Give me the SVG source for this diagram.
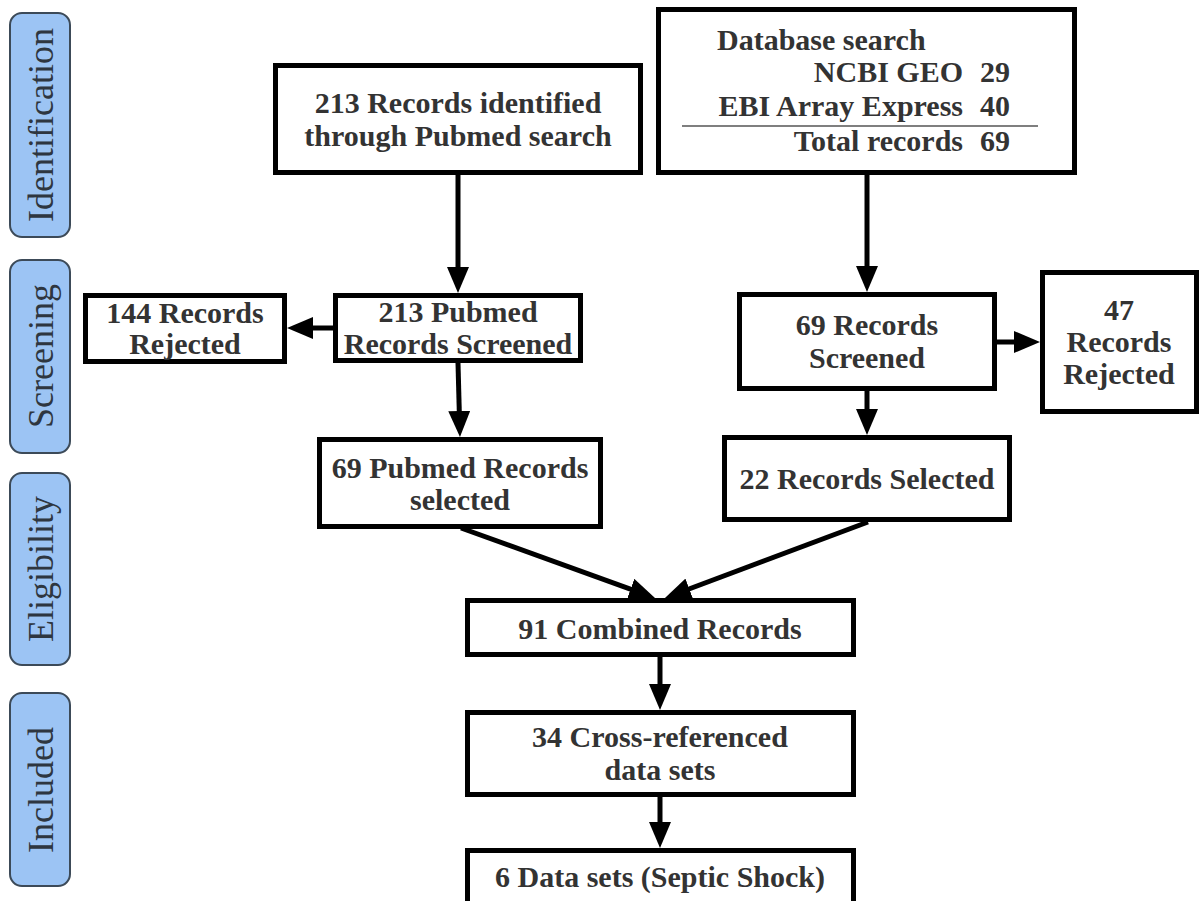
<svg xmlns="http://www.w3.org/2000/svg" width="1199" height="901" viewBox="0 0 1199 901">
<style>
.stage rect{fill:#9cc4f4;stroke:#3c4a58;stroke-width:2}
.stage text{font-family:"Liberation Serif",serif;font-size:36px;fill:#2e3640;text-anchor:middle}
.box{fill:#fff;stroke:#000;stroke-width:5}
.t{font-family:"Liberation Serif",serif;font-weight:bold;font-size:30px;fill:#333;text-anchor:middle}
.tl{text-anchor:start}
.tr{text-anchor:end}
.conn line{stroke:#000;stroke-width:5;marker-end:url(#ah)}
</style>
<defs>
<marker id="ah" markerUnits="userSpaceOnUse" viewBox="0 0 26 22" markerWidth="26" markerHeight="22" refX="16" refY="11" orient="auto">
<polygon points="0,0 26,11 0,22" fill="#000"/>
</marker>
</defs>
<rect width="1199" height="901" fill="#fff"/>

<g id="stage-identification" class="stage"><rect x="10" y="13" width="60" height="224" rx="12"/><text transform="translate(53,125) rotate(-90)">Identification</text></g>
<g id="stage-screening" class="stage"><rect x="10" y="260" width="60" height="193" rx="12"/><text transform="translate(53,356) rotate(-90)">Screening</text></g>
<g id="stage-eligibility" class="stage"><rect x="10" y="473" width="60" height="192" rx="12"/><text transform="translate(53,569) rotate(-90)">Eligibility</text></g>
<g id="stage-included" class="stage"><rect x="10" y="693" width="60" height="193" rx="12"/><text transform="translate(53,790) rotate(-90)">Included</text></g>

<g id="conn" class="conn">
<line x1="458" y1="175" x2="458" y2="283"/>
<line x1="333" y1="328" x2="297" y2="328"/>
<line x1="458" y1="363" x2="459.7" y2="427"/>
<line x1="867" y1="175" x2="867" y2="282"/>
<line x1="997" y1="342" x2="1030" y2="342"/>
<line x1="867" y1="391" x2="867" y2="425"/>
<line x1="461" y1="528" x2="645.6" y2="594.6"/>
<line x1="868" y1="522" x2="674.3" y2="594.5"/>
<line x1="660" y1="657" x2="660" y2="700"/>
<line x1="660" y1="797" x2="660" y2="838"/>
</g>

<g id="n-pubmed">
<rect class="box" x="275.5" y="65.5" width="365" height="107"/>
<text class="t" x="458" y="113">213 Records identified</text>
<text class="t" x="458" y="146">through Pubmed search</text>
</g>

<g id="n-database">
<rect class="box" x="658.5" y="9.5" width="416" height="163"/>
<text class="t tl" x="717" y="50">Database search</text>
<text class="t tr" x="963" y="82">NCBI GEO</text>
<text class="t tl" x="980" y="82">29</text>
<text class="t tr" x="963" y="116">EBI Array Express</text>
<text class="t tl" x="980" y="116">40</text>
<line x1="682" y1="126" x2="1038" y2="126" stroke="#555" stroke-width="1.5"/>
<text class="t tr" x="963" y="151">Total records</text>
<text class="t tl" x="980" y="151">69</text>
</g>

<g id="n-rejected144">
<rect class="box" x="85.5" y="295.5" width="199" height="66"/>
<text class="t" x="185" y="323">144 Records</text>
<text class="t" x="185" y="354">Rejected</text>
</g>

<g id="n-screened213">
<rect class="box" x="335.5" y="295.5" width="245" height="65"/>
<text class="t" x="458" y="322">213 Pubmed</text>
<text class="t" x="458" y="354">Records Screened</text>
</g>

<g id="n-screened69">
<rect class="box" x="739.5" y="294.5" width="255" height="94"/>
<text class="t" x="867" y="335">69 Records</text>
<text class="t" x="867" y="368">Screened</text>
</g>

<g id="n-rejected47">
<rect class="box" x="1042.5" y="272.5" width="154" height="139"/>
<text class="t" x="1119" y="320">47</text>
<text class="t" x="1119" y="352">Records</text>
<text class="t" x="1119" y="384">Rejected</text>
</g>

<g id="n-selected69">
<rect class="box" x="319.5" y="439.5" width="281" height="87"/>
<text class="t" x="460" y="478">69 Pubmed Records</text>
<text class="t" x="460" y="510">selected</text>
</g>

<g id="n-selected22">
<rect class="box" x="724.5" y="437.5" width="285" height="82"/>
<text class="t" x="867" y="489">22 Records Selected</text>
</g>

<g id="n-combined">
<rect class="box" x="467.5" y="600.5" width="386" height="54"/>
<text class="t" x="660" y="639">91 Combined Records</text>
</g>

<g id="n-crossref">
<rect class="box" x="467.5" y="712.5" width="386" height="82"/>
<text class="t" x="660" y="747">34 Cross-referenced</text>
<text class="t" x="660" y="780">data sets</text>
</g>

<g id="n-septic">
<rect class="box" x="467.5" y="850.5" width="386" height="56"/>
<text class="t" x="660" y="887">6 Data sets (Septic Shock)</text>
</g>
</svg>
